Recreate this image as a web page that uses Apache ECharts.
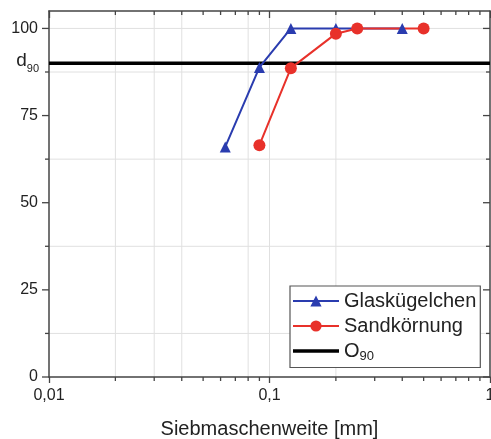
<!DOCTYPE html>
<html>
<head>
<meta charset="utf-8">
<script src="https://cdn.jsdelivr.net/npm/echarts@6/dist/echarts.min.js"></script>
<style>html,body{margin:0;padding:0;background:#fff;}#c{width:491px;height:439px;}</style>
</head>
<body>
<div id="c"></div>
<script>
// ---- data ----
const glasX = [0.063, 0.09, 0.125, 0.2, 0.4];
const glasY = [66, 88.8, 100, 100, 100];
const sandX = [0.09, 0.125, 0.2, 0.25, 0.5];
const sandY = [66.5, 88.6, 98.5, 100, 100];
const o90Value = 90;
const xRange = [0.01, 1];
const yRange = [0, 105];
const yMajorTicks = [0, 25, 50, 75, 100];
const yMinorTicks = [12.5, 37.5, 62.5, 87.5];
const yGridLines = [12.5, 37.5, 62.5, 87.5, 100];
const xMinorTicks = [0.02, 0.03, 0.04, 0.05, 0.06, 0.07, 0.08, 0.09, 0.2, 0.3, 0.4, 0.5, 0.6, 0.7, 0.8, 0.9];
const xGridLines = [0.02, 0.03, 0.04, 0.08, 0.1, 0.2];
const seriesNames = ['Glaskügelchen', 'Sandkörnung', 'O90'];
const xAxisName = 'Siebmaschenweite [mm]';

const AX = '#444';
const GRID = '#e0e0e0';
const TXT = '#222';

function fmtX(v) {
  const s = String(+(+v).toPrecision(6));
  return s.replace('.', ',');
}

const chart = echarts.init(document.getElementById('c'), null, {renderer: 'canvas'});

function vGrid(params, api) {
  const v = api.value(0);
  const b = api.coord([v, yRange[0]]);
  const t = api.coord([v, yRange[1]]);
  return {type: 'line', shape: {x1: b[0], y1: b[1], x2: t[0], y2: t[1]}, style: {stroke: GRID, lineWidth: 1}};
}
function vTicks(params, api) {
  const v = api.value(0);
  const b = api.coord([v, yRange[0]]);
  const t = api.coord([v, yRange[1]]);
  return {type: 'group', children: [
    {type: 'line', shape: {x1: b[0], y1: b[1], x2: b[0], y2: b[1] + 4}, style: {stroke: AX, lineWidth: 1.3}},
    {type: 'line', shape: {x1: t[0], y1: t[1], x2: t[0], y2: t[1] + 4}, style: {stroke: AX, lineWidth: 1.3}}
  ]};
}
function hGrid(params, api) {
  const v = api.value(1);
  const l = api.coord([xRange[0], v]);
  const r = api.coord([xRange[1], v]);
  return {type: 'line', shape: {x1: l[0], y1: l[1], x2: r[0], y2: r[1]}, style: {stroke: GRID, lineWidth: 1}};
}
function hTicks(len) {
  return function (params, api) {
    const v = api.value(1);
    const l = api.coord([xRange[0], v]);
    const r = api.coord([xRange[1], v]);
    return {type: 'group', children: [
      {type: 'line', shape: {x1: l[0] - len, y1: l[1], x2: l[0], y2: l[1]}, style: {stroke: AX, lineWidth: 1.3}},
      {type: 'line', shape: {x1: r[0] - len, y1: r[1], x2: r[0], y2: r[1]}, style: {stroke: AX, lineWidth: 1.3}}
    ]};
  };
}

const option = {
  animation: false,
  backgroundColor: '#fff',
  textStyle: {fontFamily: 'Liberation Sans, Arial, sans-serif'},
  grid: {left: 49, right: 1, top: 11, bottom: 62, containLabel: false, outerBoundsMode: 'none'},
  legend: {
    data: [seriesNames[0], seriesNames[1], {name: seriesNames[2], icon: 'path://M0,0H46V3.5H0Z'}],
    orient: 'vertical',
    left: 290, top: 286,
    padding: [5, 4, 5, 2],
    itemWidth: 46, itemHeight: 14, itemGap: 5,
    borderColor: '#555', borderWidth: 1.2,
    backgroundColor: '#fff',
    textStyle: {fontSize: 20, color: TXT, rich: {
      o: {fontSize: 20, color: TXT},
      s: {fontSize: 13, color: TXT, padding: [10, 0, 0, 0]}
    }},
    formatter: function (name) { return name === 'O90' ? '{o|O}{s|90}' : name; }
  },
  xAxis: [{
    type: 'log', logBase: 10, min: xRange[0], max: xRange[1], position: 'bottom',
    axisLine: {show: true, lineStyle: {color: AX, width: 1.5}},
    axisTick: {show: true, inside: false, length: 6, lineStyle: {color: AX, width: 1.3}},
    axisLabel: {fontSize: 16, color: TXT, margin: 11, formatter: fmtX},
    splitLine: {show: false},
    name: xAxisName, nameLocation: 'middle', nameGap: 42,
    nameTextStyle: {fontSize: 20, color: TXT}
  }, {
    type: 'log', logBase: 10, min: xRange[0], max: xRange[1], position: 'top',
    axisLine: {show: true, onZero: false, lineStyle: {color: AX, width: 1.5}},
    axisTick: {show: true, inside: true, length: 7, lineStyle: {color: AX, width: 1.3}},
    axisLabel: {show: false}, splitLine: {show: false}
  }],
  yAxis: [{
    type: 'value', min: yRange[0], max: yRange[1], interval: 25, position: 'left',
    axisLine: {show: true, onZero: false, lineStyle: {color: AX, width: 1.5}},
    axisTick: {show: false},
    axisLabel: {fontSize: 16, color: TXT, margin: 11,
      formatter: function (v) { return yMajorTicks.indexOf(v) >= 0 ? String(v) : ''; }},
    splitLine: {show: false}
  }, {
    type: 'value', min: yRange[0], max: yRange[1], interval: 25, position: 'right',
    axisLine: {show: true, onZero: false, lineStyle: {color: AX, width: 1.5}},
    axisTick: {show: false}, axisLabel: {show: false}, splitLine: {show: false}
  }, {
    type: 'value', min: yRange[0], max: yRange[1], interval: 10, position: 'left',
    axisLine: {show: false}, axisTick: {show: false}, splitLine: {show: false},
    axisLabel: {margin: 10, color: TXT,
      formatter: function (v) { return v === o90Value ? '{d|d}{s|90}' : ''; },
      rich: {
        d: {fontSize: 19, color: TXT, padding: [0, 0, 5, 0]},
        s: {fontSize: 11, color: TXT, padding: [12, 0, 0, 0]}
      }}
  }],
  series: [
    {type: 'custom', name: 'xgrid', silent: true, clip: false, z: 0,
      renderItem: vGrid, encode: {x: 0, y: 1}, data: xGridLines.map(v => [v, 0])},
    {type: 'custom', name: 'xticks', silent: true, clip: false, z: 0,
      renderItem: vTicks, encode: {x: 0, y: 1}, data: xMinorTicks.map(v => [v, 0])},
    {type: 'custom', name: 'ygrid', silent: true, clip: false, z: 0,
      renderItem: hGrid, encode: {x: 0, y: 1}, data: yGridLines.map(v => [xRange[0], v])},
    {type: 'custom', name: 'ymajor', silent: true, clip: false, z: 0,
      renderItem: hTicks(7), encode: {x: 0, y: 1}, data: yMajorTicks.map(v => [xRange[0], v])},
    {type: 'custom', name: 'yminor', silent: true, clip: false, z: 0,
      renderItem: hTicks(4), encode: {x: 0, y: 1}, data: yMinorTicks.map(v => [xRange[0], v])},
    {
      type: 'line', name: 'O90', z: 3,
      data: [[xRange[0], o90Value], [xRange[1], o90Value]],
      symbol: 'none', showSymbol: false,
      lineStyle: {color: '#000', width: 3.5}, itemStyle: {color: '#000'}
    },
    {
      type: 'line', name: 'Glaskügelchen', z: 4,
      data: glasX.map((x, i) => [x, glasY[i]]),
      symbol: 'triangle', symbolSize: 11,
      lineStyle: {color: '#2a3caf', width: 2}, itemStyle: {color: '#2a3caf'}
    },
    {
      type: 'line', name: 'Sandkörnung', z: 4,
      data: sandX.map((x, i) => [x, sandY[i]]),
      symbol: 'circle', symbolSize: 12,
      lineStyle: {color: '#e8312a', width: 2}, itemStyle: {color: '#e8312a'}
    }
  ]
};
chart.setOption(option);
</script>
</body>
</html>
